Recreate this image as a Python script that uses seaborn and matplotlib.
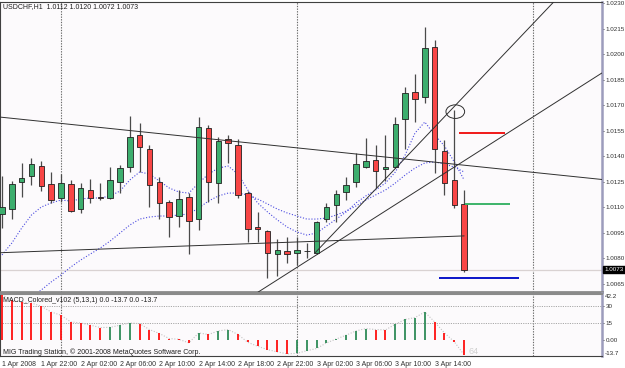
import numpy as np
import pandas as pd
import matplotlib
matplotlib.use("Agg")
import matplotlib.pyplot as plt
import matplotlib.transforms as mtransforms
from matplotlib.patches import Ellipse
import seaborn as sns

# USDCHF H1, one bar per hour from 1 Apr 2008 18:00 to 3 Apr 2008 17:00
opens = [1.01059, 1.01088, 1.01250, 1.01282, 1.01341, 1.01235, 1.01153, 1.01235,
         1.01088, 1.01200, 1.01157, 1.01153, 1.01250, 1.01335, 1.01524, 1.01441,
         1.01247, 1.01129, 1.01050, 1.01159, 1.01029, 1.01565, 1.01241, 1.01500,
         1.01465, 1.01182, 1.00982, 1.00959, 1.00824, 1.00841, 1.00829, 1.00841,
         1.00829, 1.01029, 1.01112, 1.01191, 1.01250, 1.01338, 1.01379, 1.01324,
         1.01335, 1.01618, 1.01779, 1.01747, 1.02041, 1.01429, 1.01259, 1.01120]
highs = [1.01282, 1.01253, 1.01359, 1.01388, 1.01371, 1.01306, 1.01294, 1.01259,
         1.01241, 1.01265, 1.01241, 1.01335, 1.01347, 1.01635, 1.01594, 1.01465,
         1.01276, 1.01141, 1.01200, 1.01182, 1.01629, 1.01582, 1.01512, 1.01524,
         1.01500, 1.01194, 1.01071, 1.00965, 1.00912, 1.00924, 1.00924, 1.00888,
         1.01018, 1.01124, 1.01200, 1.01276, 1.01418, 1.01506, 1.01465, 1.01524,
         1.01629, 1.01806, 1.01882, 1.02159, 1.02082, 1.01494, 1.01671, 1.01200]
lows = [1.00976, 1.01029, 1.01159, 1.01229, 1.01194, 1.01124, 1.01129, 1.01071,
        1.01065, 1.01124, 1.01144, 1.01147, 1.01182, 1.01306, 1.01306, 1.01100,
        1.01029, 1.00924, 1.00982, 1.00824, 1.00965, 1.01129, 1.01124, 1.01359,
        1.01153, 1.00894, 1.00894, 1.00682, 1.00694, 1.00771, 1.00759, 1.00800,
        1.00821, 1.01012, 1.01012, 1.01141, 1.01218, 1.01329, 1.01212, 1.01253,
        1.01329, 1.01441, 1.01600, 1.01712, 1.01300, 1.01171, 1.01094, 1.00720]
closes = [1.01100, 1.01235, 1.01271, 1.01353, 1.01224, 1.01141, 1.01241, 1.01079,
          1.01212, 1.01153, 1.01154, 1.01259, 1.01332, 1.01512, 1.01453, 1.01229,
          1.01124, 1.01041, 1.01150, 1.01018, 1.01571, 1.01247, 1.01488, 1.01476,
          1.01171, 1.00971, 1.00968, 1.00829, 1.00850, 1.00824, 1.00850, 1.00839,
          1.01009, 1.01100, 1.01179, 1.01229, 1.01353, 1.01371, 1.01312, 1.01335,
          1.01591, 1.01771, 1.01735, 1.02035, 1.01441, 1.01241, 1.01112, 1.00730]

ma_fast = [1.00818, 1.00888, 1.00976, 1.01053, 1.01100, 1.01124, 1.01141, 1.01135,
           1.01147, 1.01153, 1.01153, 1.01165, 1.01194, 1.01259, 1.01306, 1.01294,
           1.01253, 1.01212, 1.01188, 1.01182, 1.01241, 1.01294, 1.01329, 1.01341,
           1.01294, 1.01200, 1.01124, 1.01071, 1.01024, 1.00982, 1.00953, 1.00935,
           1.00947, 1.00988, 1.01029, 1.01071, 1.01124, 1.01165, 1.01200, 1.01241,
           1.01306, 1.01406, 1.01535, 1.01600, 1.01524, 1.01459, 1.01365, 1.01259]
ma_slow = [1.00447, 1.00488, 1.00529, 1.00571, 1.00612, 1.00659, 1.00700, 1.00747,
           1.00788, 1.00824, 1.00859, 1.00900, 1.00947, 1.00994, 1.01029, 1.01041,
           1.01047, 1.01047, 1.01053, 1.01059, 1.01094, 1.01135, 1.01165, 1.01182,
           1.01182, 1.01171, 1.01147, 1.01118, 1.01088, 1.01065, 1.01047, 1.01029,
           1.01029, 1.01035, 1.01053, 1.01076, 1.01106, 1.01141, 1.01171, 1.01200,
           1.01241, 1.01288, 1.01329, 1.01359, 1.01365, 1.01353, 1.01335, 1.01306]

macd_hist = [40.0, 35.0, 33.5, 32.6, 29.7, 24.6, 21.7, 15.7, 14.8, 12.8, 10.7, 10.9,
             12.8, 14.8, 14.2, 8.9, 5.4, 0.9, 0.2, -3.0, 5.9, 4.5, 7.7, 8.9,
             4.5, -2.5, -6.0, -9.0, -11.0, -12.8, -12.3, -10.0, -8.0, -3.0, 0.5, 3.9,
             7.7, 9.8, 8.9, 8.6, 13.7, 17.9, 19.6, 24.6, 15.7, 5.9, -2.0, -13.7]

price_ticks = [1.0065, 1.0080, 1.0095, 1.0110, 1.0125, 1.0140, 1.0155,
               1.0170, 1.0185, 1.0200, 1.0215, 1.0230]
time_label_bars = [0, 4, 8, 12, 16, 20, 24, 28, 32, 36, 40, 44]
time_labels = ["1 Apr 2008", "1 Apr 22:00", "2 Apr 02:00", "2 Apr 06:00",
               "2 Apr 10:00", "2 Apr 14:00", "2 Apr 18:00", "2 Apr 22:00",
               "3 Apr 02:00", "3 Apr 06:00", "3 Apr 10:00", "3 Apr 14:00"]
day_breaks = [6, 30, 54]
macd_levels = [30, 15]

# drawn objects (bar, price)
down_line_x, down_line_y = [-0.2, 61.0], [1.01629, 1.01262]
flat_line_x, flat_line_y = [-0.2, 47.0], [1.00831, 1.00930]
steep_line_x, steep_line_y = [31.8, 56.3], [1.00828, 1.02318]
ray_line_x, ray_line_y = [25.9, 61.0], [1.00594, 1.01888]
red_level_x, red_level_y = [46.5, 51.2], 1.01537
green_level_x, green_level_y = [47.1, 51.7], 1.01116
blue_level_x, blue_level_y = [44.4, 52.6], 1.00684
circle_xy, circle_w, circle_h = (46.1, 1.01661), 1.9, 0.00080
last_price = 1.0073

df = pd.DataFrame({"bar": np.arange(len(opens)), "open": opens, "high": highs,
                   "low": lows, "close": closes, "ma_fast": ma_fast, "ma_slow": ma_slow})
df["up"] = df["close"] >= df["open"]

sns.set_style("white")
plt.rcParams["font.family"] = ["Liberation Sans Narrow", "Liberation Sans", "DejaVu Sans"]
plt.rcParams["font.size"] = 5
axis_fs = 4.5

fig = plt.figure(figsize=(6.25, 3.68), dpi=100)
fig.patch.set_facecolor("white")
W, H = 625, 368
ax = fig.add_axes([0, (H - 292) / H, 602 / W, 290 / H])
ax2 = fig.add_axes([0, (H - 356) / H, 602 / W, 62.5 / H])
bg = "#fcfafc"
for a in (ax, ax2):
    a.set_facecolor(bg)
    a.set_xlim(-0.203, 61.02)
    for x in day_breaks:
        a.axvline(x, color="#6a6a6a", ls=(0, (1.2, 1.2)), lw=0.8, zorder=1)

# main window
ax.set_ylim(1.00600, 1.02306)
ax.axhline(last_price, color="#d9d2d2", lw=0.9, zorder=1)

ax.vlines(df["bar"], df["low"], df["high"], color="#4a4a4a", lw=0.9, zorder=3)
body_lo = np.minimum(df["open"], df["close"])
body_h = np.maximum((df["close"] - df["open"]).abs(), 0.000005)
ax.bar(df["bar"], body_h, bottom=body_lo, width=0.56,
       color=np.where(df["up"], "#3dae6e", "#f84646"),
       edgecolor="#202020", lw=0.6, zorder=4)

sns.lineplot(data=df, x="bar", y="ma_fast", ax=ax, color="#4a4ae0",
             ls=(0, (1, 1.6)), lw=0.8, zorder=2)
sns.lineplot(data=df, x="bar", y="ma_slow", ax=ax, color="#4a4ae0",
             ls=(0, (1, 1.6)), lw=0.8, zorder=2)

for lx, ly in [(down_line_x, down_line_y), (flat_line_x, flat_line_y),
               (steep_line_x, steep_line_y), (ray_line_x, ray_line_y)]:
    ax.plot(lx, ly, color="#303030", lw=0.7, zorder=5)
ax.hlines(red_level_y, *red_level_x, color="#f01818", lw=1.4, zorder=5)
ax.hlines(green_level_y, *green_level_x, color="#3cb46a", lw=1.4, zorder=5)
ax.hlines(blue_level_y, *blue_level_x, color="#0a14c8", lw=1.4, zorder=5)
ax.add_patch(Ellipse(circle_xy, circle_w, circle_h, fill=False,
                     ec="#303030", lw=0.7, zorder=6))

ax.yaxis.tick_right()
ax.set_yticks(price_ticks)
ax.set_yticklabels([f"{p:.4f}" for p in price_ticks])
ax.set_xticks([])
ax.set_xlabel("")
ax.set_ylabel("")
ax.tick_params(axis="y", length=1.5, width=0.6, pad=1.0, colors="#303030", labelsize=axis_fs)
ax.text(0.005, 0.983, "USDCHF,H1  1.0112 1.0120 1.0072 1.0073",
        transform=ax.transAxes, va="center", ha="left", fontsize=5, color="#202020")
tr = mtransforms.blended_transform_factory(ax.transAxes, ax.transData)
ax.text(1.004, last_price, "1.0073", transform=tr, va="center", ha="left",
        fontsize=axis_fs, color="white",
        bbox=dict(boxstyle="square,pad=0.15", fc="black", ec="black"))

# MACD window
ax2.set_ylim(-14.7, 41.1)
bars = np.arange(len(macd_hist))
hist = np.array(macd_hist)
grow = np.r_[False, hist[1:] > hist[:-1]]
ax2.vlines(bars, 0, hist, colors=np.where(grow, "#2e8b57", "#ff1010"), lw=1.3, zorder=3)
sns.lineplot(x=bars, y=hist, ax=ax2, color="#c4c4c4", ls=(0, (1, 1.5)), lw=0.8, zorder=2)
for lv in macd_levels:
    ax2.axhline(lv, color="#a8a8a8", ls=(0, (1.2, 1.2)), lw=0.7, zorder=1)

ax2.yaxis.tick_right()
ax2.set_yticks([30, 15, 0])
ax2.set_yticklabels(["30", "15", "0.00"])
ax2.set_xticks(time_label_bars)
ax2.set_xticklabels(time_labels, ha="left")
ax2.set_xlabel("")
ax2.set_ylabel("")
ax2.tick_params(axis="y", length=1.5, width=0.6, pad=1.0, colors="#303030", labelsize=axis_fs)
ax2.tick_params(axis="x", length=2, width=0.6, pad=1.5, colors="#303030", labelsize=5)
ax2.text(1.005, 1.0, "42.2", transform=ax2.transAxes, va="top", ha="left", fontsize=axis_fs)
ax2.text(1.005, 0.0, "-13.7", transform=ax2.transAxes, va="bottom", ha="left", fontsize=axis_fs)
ax2.text(0.005, 0.895, "MACD_Colored_v102 (5,13,1) 0.0 -13.7 0.0 -13.7",
         transform=ax2.transAxes, va="center", ha="left", fontsize=5, color="#202020")
ax2.text(0.005, 0.065, "MIG Trading Station, \u00a9 2001-2008 MetaQuotes Software Corp.",
         transform=ax2.transAxes, va="center", ha="left", fontsize=5, color="#202020")
ax2.text(47.4, -11.0, "64", va="center", ha="left", fontsize=6.5, color="#d0d0d0")

for a in (ax, ax2):
    for side in ("left", "top", "bottom"):
        a.spines[side].set_color("#404040")
        a.spines[side].set_linewidth(0.8)
    a.spines["right"].set_color("#9c9cbc")
    a.spines["right"].set_linewidth(1.8)
ax.spines["bottom"].set_color("#8a8a8a")
ax.spines["bottom"].set_linewidth(2.0)
ax2.spines["top"].set_color("#8a8a8a")
ax2.spines["top"].set_linewidth(1.5)

fig.savefig("out.png", dpi=100, facecolor="white")
